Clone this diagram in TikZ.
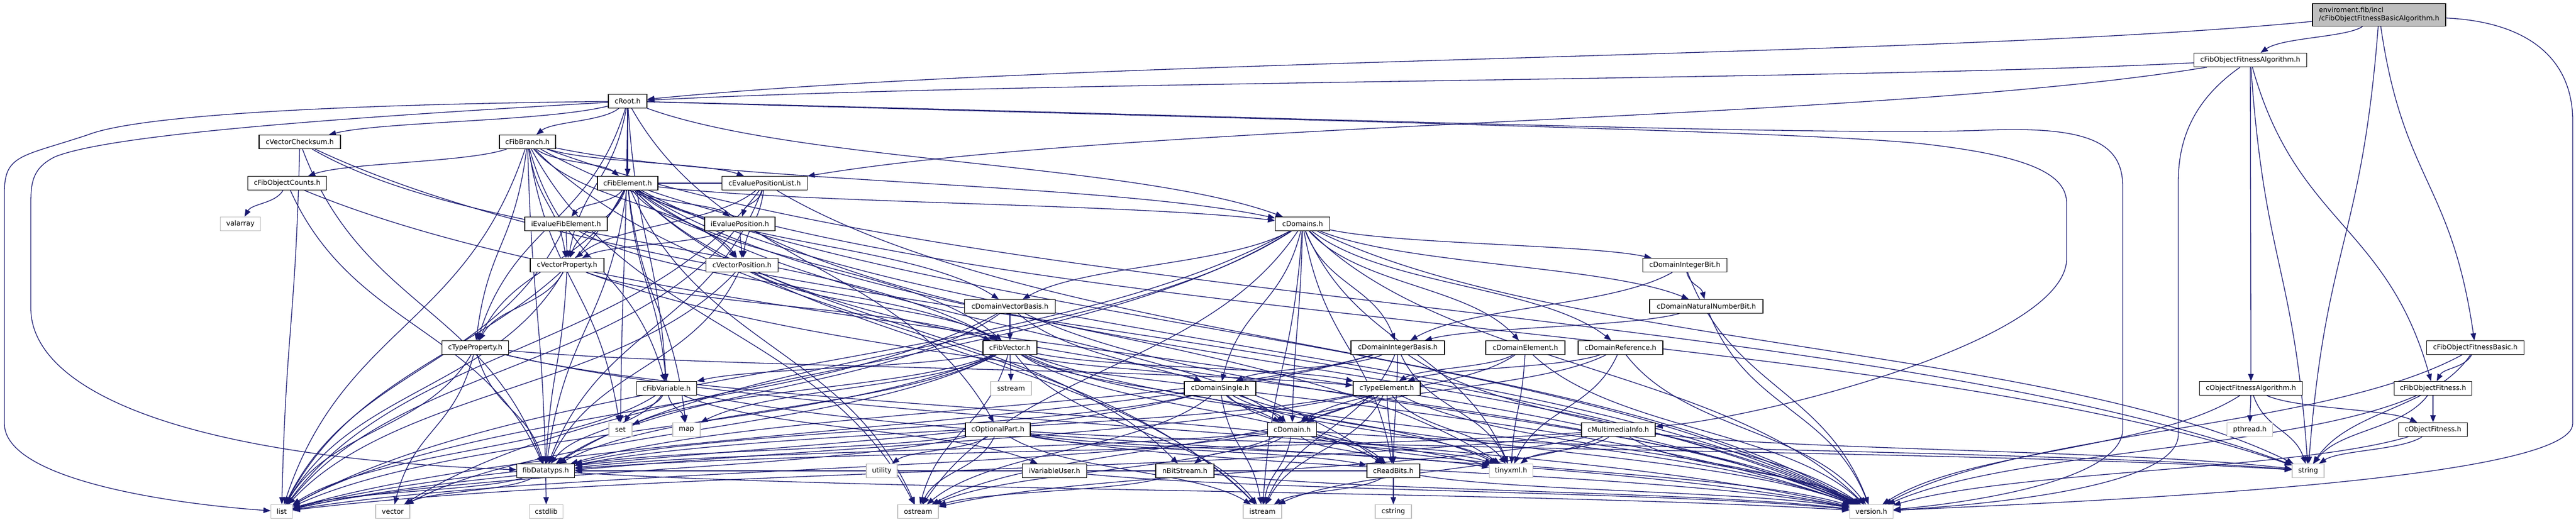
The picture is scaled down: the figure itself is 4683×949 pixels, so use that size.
\documentclass[tikz,border=0pt]{standalone}
\usepackage{fontspec}
\setmainfont{DejaVu Sans}
\usetikzlibrary{arrows.meta,calc}
\definecolor{edgecol}{HTML}{191970}
\definecolor{grayb}{HTML}{BFBFBF}
\pgfdeclarelayer{bg}
\pgfsetlayers{bg,main}
\tikzset{
  box/.style={draw=black, line width=1.2pt, fill=white, minimum height=25pt, inner sep=0pt, font=\fontsize{12.5}{15}\selectfont, text=black},
  sysbox/.style={box, draw=grayb},
  topbox/.style={box, fill=grayb, minimum height=41pt, align=left},
  edge/.style={draw=edgecol, line width=1.3pt, -{Triangle[length=13pt,width=10pt]}},
}
\newcommand\edg[2]{\draw[edge] let \p1=(#1.center), \p2=(#2.center) in (#1) .. controls ({\x1+0.25*(\x2-\x1)},{\y1+0.5*(\y2-\y1)}) and ({\x2-0.25*(\x2-\x1)},{\y2-0.5*(\y2-\y1)}) .. (#2);}
\begin{document}
\begin{tikzpicture}[x=1pt,y=-1pt]
\useasboundingbox (0,0) rectangle (4683,949);
% nodes
\node[topbox, minimum width=242pt] (top) at (4325,27) {enviroment.fib/incl\\/cFibObjectFitnessBasicAlgorithm.h};
\node[box, minimum width=205pt] (fitAlg) at (4091,109) {cFibObjectFitnessAlgorithm.h};
\node[box, minimum width=70pt] (root) at (1141,184) {cRoot.h};
\node[box, minimum width=148pt] (vchk) at (545,258) {cVectorChecksum.h};
\node[box, minimum width=102pt] (branch) at (959,258) {cFibBranch.h};
\node[box, minimum width=143pt] (counts) at (522,333) {cFibObjectCounts.h};
\node[box, minimum width=110pt] (elem) at (1141,333) {cFibElement.h};
\node[box, minimum width=155pt] (evlist) at (1390,333) {cEvaluePositionList.h};
\node[sysbox, minimum width=73pt] (valarray) at (437,407) {valarray};
\node[box, minimum width=150pt] (evfib) at (1029,407) {iEvalueFibElement.h};
\node[box, minimum width=128pt] (evpos) at (1345,407) {iEvaluePosition.h};
\node[box, minimum width=99pt] (domains) at (2368,407) {cDomains.h};
\node[box, minimum width=134pt] (vprop) at (1031,482) {cVectorProperty.h};
\node[box, minimum width=131pt] (vpos) at (1349,482) {cVectorPosition.h};
\node[box, minimum width=153pt] (dibit) at (3063,482) {cDomainIntegerBit.h};
\node[box, minimum width=165pt] (dvb) at (1836,557) {cDomainVectorBasis.h};
\node[box, minimum width=206pt] (dnnb) at (3102,557) {cDomainNaturalNumberBit.h};
\node[box, minimum width=121pt] (tprop) at (864,632) {cTypeProperty.h};
\node[box, minimum width=98pt] (fvec) at (1836,632) {cFibVector.h};
\node[box, minimum width=170pt] (dib) at (2541,632) {cDomainIntegerBasis.h};
\node[box, minimum width=144pt] (delem) at (2773,632) {cDomainElement.h};
\node[box, minimum width=154pt] (dref) at (2946,632) {cDomainReference.h};
\node[box, minimum width=177pt] (fbasic) at (4500,632) {cFibObjectFitnessBasic.h};
\node[box, minimum width=109pt] (fvar) at (1212,706) {cFibVariable.h};
\node[sysbox, minimum width=74pt] (sstream) at (1838,706) {sstream};
\node[box, minimum width=130pt] (dsingle) at (2218,706) {cDomainSingle.h};
\node[box, minimum width=122pt] (telem) at (2521,706) {cTypeElement.h};
\node[box, minimum width=187pt] (ofalg) at (4092,706) {cObjectFitnessAlgorithm.h};
\node[box, minimum width=141pt] (ffit) at (4423,706) {cFibObjectFitness.h};
\node[sysbox, minimum width=42pt] (set) at (1128,781) {set};
\node[sysbox, minimum width=50pt] (map) at (1248,781) {map};
\node[box, minimum width=118pt] (opt) at (1814,781) {cOptionalPart.h};
\node[box, minimum width=89pt] (domain) at (2349,781) {cDomain.h};
\node[box, minimum width=134pt] (mmi) at (2942,781) {cMultimediaInfo.h};
\node[sysbox, minimum width=83pt] (pthread) at (4090,781) {pthread.h};
\node[box, minimum width=125pt] (ofit) at (4423,781) {cObjectFitness.h};
\node[box, minimum width=105pt] (fdt) at (992,856) {fibDatatyps.h};
\node[sysbox, minimum width=56pt] (utility) at (1603,856) {utility};
\node[box, minimum width=117pt] (vuser) at (1917,856) {iVariableUser.h};
\node[box, minimum width=106pt] (nbit) at (2154,856) {nBitStream.h};
\node[box, minimum width=96pt] (rbits) at (2533,856) {cReadBits.h};
\node[sysbox, minimum width=79pt] (tinyxml) at (2747,856) {tinyxml.h};
\node[sysbox, minimum width=58pt] (string) at (4196,856) {string};
\node[sysbox, minimum width=39pt] (list) at (512,930) {list};
\node[sysbox, minimum width=62pt] (vector) at (714,930) {vector};
\node[sysbox, minimum width=61pt] (cstdlib) at (993,930) {cstdlib};
\node[sysbox, minimum width=74pt] (ostream) at (1669,930) {ostream};
\node[sysbox, minimum width=70pt] (istream) at (2295,930) {istream};
\node[sysbox, minimum width=66pt] (cstring) at (2533,930) {cstring};
\node[sysbox, minimum width=79pt] (version) at (3402,930) {version.h};
% edges
\begin{pgfonlayer}{bg}
% routed edges
\draw[edge] (top) .. controls (4600,40) and (4677,110) .. (4677,220) -- (4677,770) .. controls (4677,880) and (3700,915) .. (version);
\draw[edge] (fitAlg) .. controls (3990,180) and (3960,250) .. (3960,330) -- (3960,790) .. controls (3960,880) and (3650,915) .. (version);
\draw[edge] (root) .. controls (2300,212) and (3300,248) .. (3600,237) .. controls (3800,228) and (3859,260) .. (3859,340) -- (3859,780) .. controls (3859,870) and (3600,912) .. (version);
\draw[edge] (root) .. controls (2500,222) and (3300,240) .. (3500,262) .. controls (3700,285) and (3757,320) .. (3757,370) -- (3757,470) .. controls (3757,620) and (3200,760) .. (mmi);
\draw[edge] (root) .. controls (600,190) and (250,210) .. (160,245) .. controls (40,285) and (8,280) .. (8,350) -- (8,770) .. controls (8,870) and (300,915) .. (list);
\draw[edge] (root) .. controls (600,215) and (200,245) .. (100,285) .. controls (60,305) and (56,330) .. (56,370) -- (56,560) .. controls (56,700) and (300,830) .. (fdt);
% generic edges
\foreach \s/\t in {
 top/root, top/fitAlg, top/string, top/fbasic,
 fitAlg/root, fitAlg/evlist, fitAlg/ofalg, fitAlg/string, fitAlg/ffit,
 root/vchk, root/branch, root/elem, root/domains, root/opt, root/fvar, root/tprop, root/vprop, root/set,
 branch/counts, branch/elem, branch/fdt, branch/list, branch/set, branch/tprop, branch/vprop, branch/fvar, branch/domains, branch/vpos, branch/version, branch/ostream, branch/istream, branch/evlist, branch/string,
 elem/evfib, elem/vprop, elem/evpos, elem/vpos, elem/evlist, elem/domains, elem/fvar, elem/tprop, elem/fdt, elem/list, elem/map, elem/rbits, elem/tinyxml, elem/version, elem/string, elem/ostream, elem/istream, elem/fvec, elem/dvb, elem/nbit,
 vchk/fvec, vchk/fdt, vchk/list, vchk/version,
 counts/valarray, counts/fdt, counts/version,
 evlist/evpos, evlist/vpos, evlist/vprop, evlist/fdt, evlist/list, evlist/version,
 evfib/vprop, evfib/fvec, evfib/list,
 evpos/vpos, evpos/vprop, evpos/list, evpos/version,
 domains/dibit, domains/domain, domains/dvb, domains/dib, domains/delem, domains/dref, domains/dsingle, domains/fdt, domains/list, domains/version, domains/string, domains/tinyxml, domains/rbits, domains/istream, domains/dnnb, domains/vector, domains/ostream,
 vprop/tprop, vprop/fvec, vprop/fdt, vprop/list, vprop/version,
 vpos/fvec, vpos/fdt, vpos/list, vpos/version,
 dibit/dib, dibit/dnnb, dibit/version,
 dvb/fvec, dvb/fdt, dvb/list, dvb/domain, dvb/version,
 dnnb/dib, dnnb/version,
 tprop/fdt, tprop/list, tprop/vector, tprop/telem, tprop/version, tprop/tinyxml,
 fvec/fdt, fvec/list, fvec/fvar, fvec/map, fvec/sstream, fvec/dsingle, fvec/domain, fvec/telem, fvec/tinyxml, fvec/rbits, fvec/ostream, fvec/istream, fvec/version, fvec/vector, fvec/set,
 dib/dsingle, dib/fdt, dib/list, dib/version, dib/rbits, dib/istream, dib/tinyxml,
 delem/telem, delem/domain, delem/version, delem/tinyxml,
 dref/telem, dref/domain, dref/version, dref/tinyxml,
 fbasic/ffit, fbasic/string, fbasic/version,
 fvar/set, fvar/map, fvar/fdt, fvar/list, fvar/vuser, fvar/version,
 dsingle/domain, dsingle/fdt, dsingle/list, dsingle/rbits, dsingle/istream, dsingle/version, dsingle/ostream, dsingle/tinyxml,
 telem/domain, telem/rbits, telem/tinyxml, telem/istream, telem/fdt, telem/list, telem/version, telem/ostream,
 ofalg/pthread, ofalg/string, ofalg/version, ofalg/ofit,
 ffit/ofit, ffit/string, ffit/version,
 opt/utility, opt/ostream, opt/istream, opt/fdt, opt/list, opt/version, opt/tinyxml, opt/rbits, opt/string,
 domain/fdt, domain/list, domain/rbits, domain/tinyxml, domain/version, domain/istream, domain/nbit, domain/string, domain/ostream,
 mmi/tinyxml, mmi/ostream, mmi/version, mmi/string, mmi/fdt, mmi/list, mmi/istream,
 ofit/string, ofit/version,
 fdt/version, fdt/cstdlib, fdt/list, fdt/vector,
 vuser/version, nbit/ostream, nbit/version,
 rbits/istream, rbits/cstring, rbits/version, rbits/fdt}
 {\edg{\s}{\t}}
\end{pgfonlayer}
\end{tikzpicture}
\end{document}
